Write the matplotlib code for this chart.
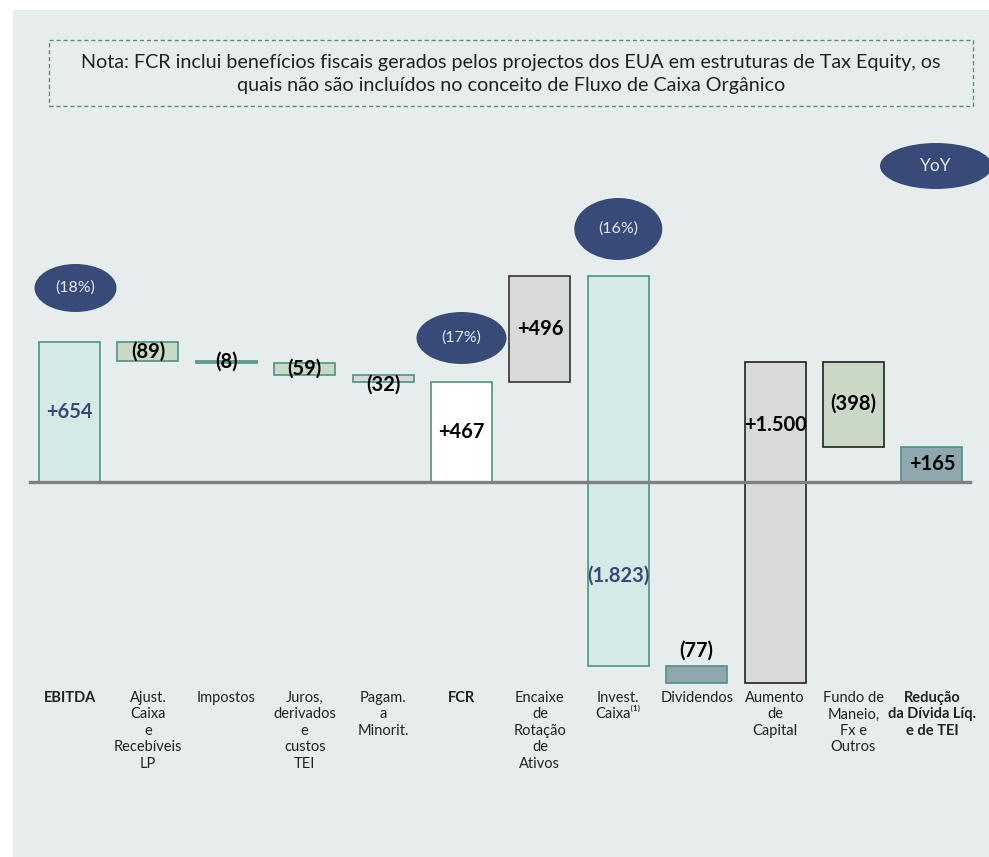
import numpy as np
import matplotlib.pyplot as plt
from matplotlib.patches import Rectangle, Ellipse

plt.rcParams['font.family'] = ['Lato', 'DejaVu Sans']

# dados
categories = ['EBITDA', 'Ajust.\nCaixa\ne\nRecebíveis\nLP', 'Impostos',
              'Juros,\nderivados\ne\ncustos\nTEI', 'Pagam.\na\nMinorit.', 'FCR',
              'Encaixe\nde\nRotação\nde\nAtivos', 'Invest.\nCaixa⁽¹⁾', 'Dividendos',
              'Aumento\nde\nCapital', 'Fundo de\nManeio,\nFx e\nOutros',
              'Redução\nda Dívida Líq.\ne de TEI']
values = [654, -89, -8, -59, -32, 467, 496, -1823, -77, 1500, -398, 165]
is_total = [True, False, False, False, False, True, False, False, False, False, False, True]
value_labels = ['+654', '(89)', '(8)', '(59)', '(32)', '+467', '+496', '(1.823)',
                '(77)', '+1.500', '(398)', '+165']
pct_labels = {0: '(18%)', 5: '(17%)', 7: '(16%)'}
bold_cats = [0, 5, 11]

# estilos
teal = '#4a9484'
fills = ['#d5e9e6', '#cad8c6', '#cad8c6', '#cad8c6', '#d9d9d9', '#ffffff',
         '#d9d9d9', '#d5e9e6', '#8fa8ae', '#d9d9d9', '#cad8c6', '#8fa8ae']
edges = [teal, teal, teal, teal, teal, teal, '#333333', teal, teal, '#222222', '#222222', teal]
navy = '#384a78'

W, H = 989, 857
fig = plt.figure(figsize=(W / 100, H / 100), dpi=100)
fig.patch.set_facecolor('white')

bg = fig.add_axes([13 / W, 0, 1 - 13 / W, (H - 10) / H])
bg.set_facecolor('#e7edec')
bg.set_xticks([])
bg.set_yticks([])
for s in bg.spines.values():
    s.set_visible(False)
bg.set_zorder(0)

ax = fig.add_axes([0, 0, 1, 1])
ax.set_zorder(1)
ax.set_facecolor('none')
scale = 0.214          # px por unidade
step = 78.4            # px entre barras
x0 = 69.5
ax.set_xlim(-x0 / step, (W - x0) / step)
ax.set_ylim(-(H - 482) / scale, 482 / scale)
ax.axis('off')

# waterfall
bottoms = []
running = 0
for v, tot in zip(values, is_total):
    if tot:
        bottoms.append(0)
        running = v
    else:
        bottoms.append(running + v if v < 0 else running)
        running += v
heights = [abs(v) for v in values]
x = np.arange(len(values))
ax.bar(x, heights, bottom=bottoms, width=0.78, color=fills, edgecolor=edges,
       linewidth=1.2, zorder=2)

ax.plot([(30 - x0) / step, (970 - x0) / step], [0, 0], color='#808080', lw=2.4, zorder=3)

# rótulos de valor
label_y = {4: 453, 7: -439, 8: -790, 9: 266}
for i, lab in enumerate(value_labels):
    yc = label_y.get(i, bottoms[i] + heights[i] / 2)
    col = navy if i in (0, 7) else 'black'
    ax.text(i, yc, lab, ha='center', va='center', fontsize=14.5, fontweight='bold',
            color=col, zorder=4)

# categorias
for i, c in enumerate(categories):
    ax.text(i, -(691 - 482) / scale, c, ha='center', va='top', fontsize=10.5,
            fontweight='bold' if i in bold_cats else 'normal', color='#222222',
            linespacing=1.22, zorder=4)

# elipses
ell_pos = {0: (288, 82, 48), 5: (338, 90, 52), 7: (229, 88, 62)}
for i, lab in pct_labels.items():
    yc, ew, eh = ell_pos[i]
    cx = (x0 + i * step) / W + (6 / W if i == 0 else 0)
    e = Ellipse((cx, 1 - yc / H), ew / W, eh / H, transform=fig.transFigure,
                facecolor=navy, edgecolor='none', zorder=5)
    ax.add_artist(e)
    ax.text(cx, 1 - yc / H, lab, transform=fig.transFigure, ha='center', va='center',
            fontsize=11.5, color='#e4e8f0', zorder=6)

e = Ellipse((936 / W, 1 - 166 / H), 112 / W, 46 / H, transform=fig.transFigure,
            facecolor=navy, edgecolor='none', zorder=5)
ax.add_artist(e)
ax.text(936 / W, 1 - 166 / H, 'YoY', transform=fig.transFigure, ha='center', va='center',
        fontsize=12.5, color='#e4e8f0', zorder=6)

# nota
ax.add_artist(Rectangle((49 / W, 1 - 106 / H), (973 - 49) / W, 66 / H,
                        transform=fig.transFigure, facecolor='none',
                        edgecolor='#4a9484', linestyle=(0, (3, 2)), lw=1.0, zorder=5))
ax.text(511 / W, 1 - 74 / H,
        'Nota: FCR inclui benefícios fiscais gerados pelos projectos dos EUA em estruturas de Tax Equity, os\n'
        'quais não são incluídos no conceito de Fluxo de Caixa Orgânico',
        transform=fig.transFigure, ha='center', va='center', fontsize=14.2,
        color='#222222', linespacing=1.38, zorder=6)

fig.savefig('out.png', dpi=100)
